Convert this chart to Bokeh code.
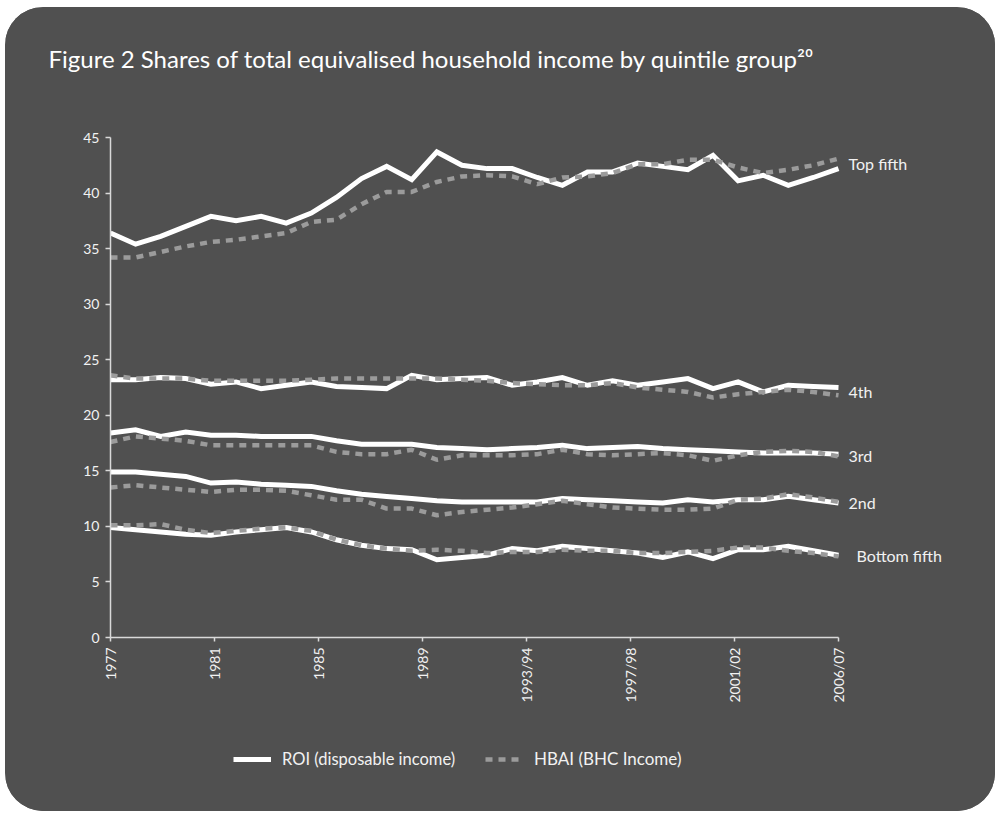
import math
from bokeh.plotting import figure
from bokeh.layouts import column
from bokeh.models import (Range1d, FixedTicker, CustomJSTickFormatter, Label,
                          Legend, LegendItem, Title)
from bokeh.embed import file_html
from bokeh.resources import INLINE

# ---------------- data ----------------
years = [str(y) for y in range(1977, 1993)] + [
    "1993/94", "1994/95", "1995/96", "1996/97", "1997/98", "1998/99", "1999/00",
    "2000/01", "2001/02", "2002/03", "2003/04", "2004/05", "2005/06", "2006/07"]

tick_labels = ["1977", "1981", "1985", "1989", "1993/94", "1997/98", "2001/02", "2006/07"]
y_ticks = [0, 5, 10, 15, 20, 25, 30, 35, 40, 45]

quintiles = ["Top fifth", "4th", "3rd", "2nd", "Bottom fifth"]

roi_top = [36.4, 35.4, 36.1, 37.0, 37.9, 37.5, 37.9, 37.3, 38.2, 39.6, 41.3, 42.4, 41.2, 43.7, 42.5,
           42.2, 42.2, 41.4, 40.7, 41.9, 41.9, 42.7, 42.4, 42.1, 43.4, 41.1, 41.6, 40.7, 41.4, 42.2]
hbai_top = [34.2, 34.2, 34.7, 35.2, 35.6, 35.8, 36.1, 36.4, 37.4, 37.6, 39.0, 40.1, 40.1, 41.0, 41.5,
            41.6, 41.5, 40.8, 41.4, 41.5, 41.8, 42.6, 42.6, 43.0, 43.0, 42.3, 41.8, 42.1, 42.5, 43.1]
roi_4th = [23.2, 23.2, 23.4, 23.3, 22.8, 23.0, 22.4, 22.7, 23.0, 22.6, 22.5, 22.4, 23.6, 23.2, 23.3,
           23.4, 22.7, 23.0, 23.4, 22.7, 23.1, 22.7, 23.0, 23.3, 22.4, 23.0, 22.1, 22.7, 22.6, 22.5]
hbai_4th = [23.6, 23.3, 23.3, 23.3, 23.1, 23.1, 23.1, 23.1, 23.2, 23.3, 23.3, 23.3, 23.3, 23.3, 23.2,
            23.1, 22.9, 22.8, 22.7, 22.7, 22.9, 22.5, 22.3, 22.1, 21.6, 21.9, 22.1, 22.3, 22.1, 21.8]
roi_3rd = [18.4, 18.7, 18.1, 18.5, 18.2, 18.2, 18.1, 18.1, 18.1, 17.7, 17.4, 17.4, 17.4, 17.1, 17.0,
           16.9, 17.0, 17.1, 17.3, 17.0, 17.1, 17.2, 17.0, 16.9, 16.8, 16.7, 16.6, 16.6, 16.6, 16.5]
hbai_3rd = [17.6, 18.1, 17.9, 17.7, 17.3, 17.3, 17.3, 17.3, 17.3, 16.7, 16.5, 16.5, 16.9, 16.0, 16.4,
            16.4, 16.4, 16.5, 16.9, 16.5, 16.4, 16.5, 16.6, 16.4, 15.9, 16.4, 16.7, 16.8, 16.7, 16.3]
roi_2nd = [14.9, 14.9, 14.7, 14.5, 13.9, 14.0, 13.8, 13.7, 13.6, 13.2, 12.9, 12.7, 12.5, 12.3, 12.2,
           12.2, 12.2, 12.2, 12.5, 12.4, 12.3, 12.2, 12.1, 12.4, 12.2, 12.4, 12.4, 12.7, 12.4, 12.1]
hbai_2nd = [13.5, 13.7, 13.5, 13.3, 13.1, 13.3, 13.3, 13.2, 12.8, 12.4, 12.4, 11.6, 11.6, 11.0, 11.3,
            11.5, 11.7, 12.0, 12.3, 12.0, 11.7, 11.6, 11.5, 11.5, 11.6, 12.4, 12.5, 12.9, 12.6, 12.2]
roi_bottom = [9.9, 9.7, 9.5, 9.3, 9.2, 9.5, 9.7, 9.9, 9.5, 8.8, 8.3, 8.0, 7.9, 7.0, 7.2,
              7.4, 8.0, 7.8, 8.2, 8.0, 7.8, 7.6, 7.2, 7.7, 7.1, 7.9, 7.9, 8.2, 7.8, 7.4]
hbai_bottom = [10.1, 10.1, 10.2, 9.7, 9.4, 9.6, 9.8, 9.9, 9.6, 8.8, 8.3, 8.0, 7.8, 7.9, 7.8,
               7.6, 7.7, 7.7, 7.9, 7.8, 7.8, 7.6, 7.6, 7.7, 7.8, 8.1, 8.1, 7.8, 7.6, 7.3]

roi_series = [roi_top, roi_4th, roi_3rd, roi_2nd, roi_bottom]
hbai_series = [hbai_top, hbai_4th, hbai_3rd, hbai_2nd, hbai_bottom]
legend_labels = ["ROI (disposable income)", "HBAI (BHC Income)"]
title_text = "Figure 2 Shares of total equivalised household income by quintile group\u00b2\u2070"

# ---------------- styling / layout ----------------
BG = "#505050"
TXT = "#f2f2f2"
AX = "#d9d9d9"
GREY = "#9b9b9b"
FONT = "Lato"

W, H_TITLE, H_MAIN, H_LEG = 990, 110, 620, 74
LEFT, TOP = 105, 20
DATA_W, FRAME_W, FRAME_H = 728, 865, 500

ROI_STYLE = dict(line_color="white", line_width=5, line_join="miter")
HBAI_STYLE = dict(line_color=GREY, line_width=4.5, line_dash="7 6", line_cap="butt")


def strip(height):
    f = figure(width=W, height=height, output_backend="svg", toolbar_location=None,
               x_range=Range1d(0, 1), y_range=Range1d(0, 1),
               min_border=0, x_axis_location=None, y_axis_location=None)
    f.background_fill_color = BG
    f.border_fill_color = BG
    f.outline_line_color = None
    f.xgrid.grid_line_color = None
    f.ygrid.grid_line_color = None
    return f


# ---------------- title strip ----------------
t = strip(H_TITLE)
t.title = Title(text=title_text, align="left", vertical_align="top", offset=-62, standoff=72,
                text_color="white", text_font=FONT, text_font_size="24px", text_font_style="normal")

# ---------------- main chart ----------------
x = list(range(len(years)))
x_end = (len(years) - 1) * FRAME_W / DATA_W

p = figure(width=W, height=H_MAIN, output_backend="svg", toolbar_location=None,
           x_range=Range1d(0, x_end), y_range=Range1d(0, 45),
           min_border_left=LEFT, min_border_right=W - LEFT - FRAME_W,
           min_border_top=TOP, min_border_bottom=H_MAIN - TOP - FRAME_H)
p.background_fill_color = BG
p.border_fill_color = BG
p.outline_line_color = None
p.xgrid.grid_line_color = None
p.ygrid.grid_line_color = None

p.yaxis.ticker = FixedTicker(ticks=y_ticks)
p.yaxis.minor_tick_line_color = None
p.yaxis.major_tick_out = 5
p.yaxis.major_tick_in = 0
p.yaxis.major_label_standoff = 6

n_int = len(tick_labels) - 1
x_tick_pos = [i * (len(years) - 1) / n_int for i in range(len(tick_labels))]
p.xaxis.ticker = FixedTicker(ticks=x_tick_pos)
p.xaxis.formatter = CustomJSTickFormatter(args=dict(labels=tick_labels), code="return labels[index];")
p.xaxis.bounds = (0, len(years) - 1)
p.xaxis.minor_tick_line_color = None
p.xaxis.major_tick_out = 4
p.xaxis.major_tick_in = 0
p.xaxis.major_label_orientation = math.pi / 2
p.xaxis.major_label_standoff = 6

for ax in (p.xaxis[0], p.yaxis[0]):
    ax.axis_line_color = AX
    ax.axis_line_width = 1.5
    ax.major_tick_line_color = AX
    ax.major_tick_line_width = 1.5
    ax.major_label_text_color = TXT
    ax.major_label_text_font = FONT
    ax.major_label_text_font_size = "14px"

for vals in roi_series:
    p.line(x, vals, **ROI_STYLE)
for vals in hbai_series:
    p.line(x, vals, **HBAI_STYLE)

for name, rv, hv in zip(quintiles, roi_series, hbai_series):
    off = 18 if name == "Bottom fifth" else 10
    p.add_layout(Label(x=len(years) - 1, y=(rv[-1] + hv[-1]) / 2, x_offset=off,
                       text=name, text_baseline="middle", text_align="left",
                       text_color=TXT, text_font=FONT, text_font_size="16px"))

# ---------------- legend strip ----------------
q = strip(H_LEG)
# legend sample renderers: same series, lying outside this strip's ranges (not visible)
r_roi = q.line(x, roi_series[0], **ROI_STYLE)
r_hbai = q.line(x, hbai_series[0], **HBAI_STYLE)


def make_legend(label, renderer, vx, vy, size):
    lg = Legend(items=[LegendItem(label=label, renderers=[renderer])],
                location=(vx, vy), orientation="horizontal",
                padding=0, margin=0, spacing=0,
                glyph_width=38, glyph_height=20, label_standoff=11, label_height=20,
                label_text_color=TXT, label_text_font=FONT, label_text_font_size=size,
                background_fill_alpha=0, border_line_alpha=0)
    q.add_layout(lg, "center")


make_legend(legend_labels[0], r_roi, 123, 42, "16.5px")
make_legend(legend_labels[1], r_hbai, 375, 42, "17px")

layout = column(t, p, q, spacing=0)
layout.styles = {"border-radius": "38px", "overflow": "hidden",
                 "margin-left": "5px", "margin-top": "7px", "background-color": BG}

open("out.html", "w").write(file_html(layout, INLINE))
